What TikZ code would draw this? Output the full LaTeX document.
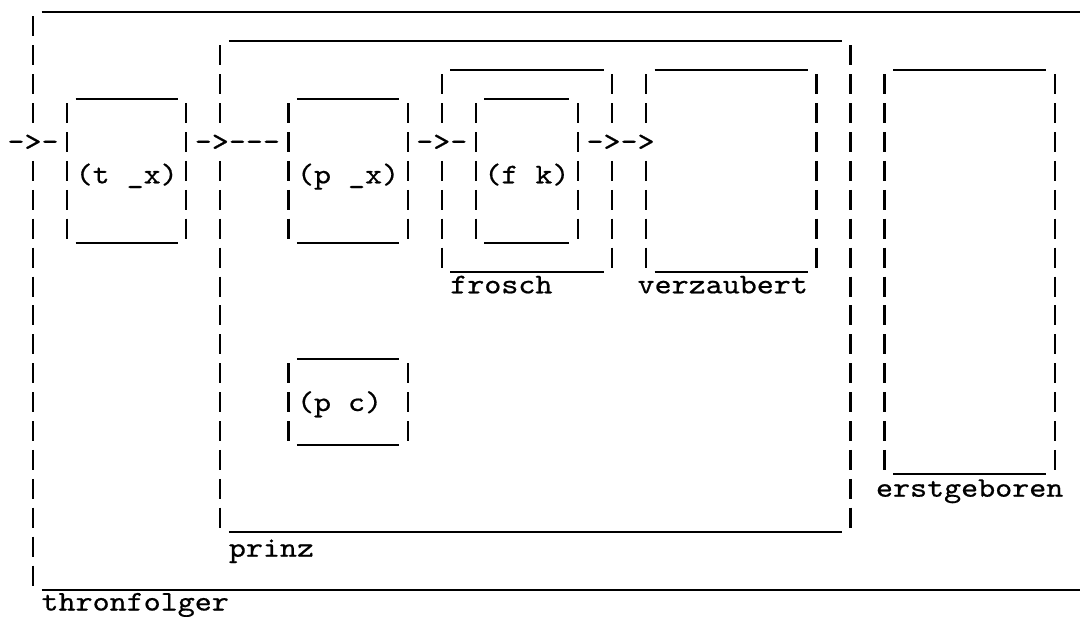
\documentclass[tikz,border=0pt]{standalone}
\usepackage{fontspec}
\newfontfamily\courfont{lmmono10-regular.otf}[FakeStretch=1.142,FakeBold=0.6]
\newcommand\colx[1]{(16+17.03*(#1))}
\newcommand\rowy[1]{(12+28.9*(#1))}
\tikzset{
  uline/.style={line width=2pt},
  vbar/.style={line width=2.2pt, dash pattern=on 20pt off 8.9pt},
  txt/.style={font=\courfont\fontsize{28.4pt}{30pt}\selectfont, inner sep=0pt, outer sep=0pt, anchor=base west}
}
% underscore run in a row, from first to last character column
\newcommand\uscore[3]{\draw[uline] ({\colx{#2}-8.515},{\rowy{#1}}) -- ({\colx{#3}+8.515},{\rowy{#1}});}
% dashed bar in a column, from first to last row
\newcommand\barcol[3]{\draw[vbar] ({\colx{#1}},{\rowy{#2-1}+4.45}) -- ({\colx{#1}},{\rowy{#3}-4.45});}
% text node: name, first column, baseline y, text
\newcommand\txtat[4]{\node[txt] (#1) at ({\colx{#2}-8.515},#3) {#4};}
\begin{document}
\begin{tikzpicture}[x=1pt,y=-1pt]
\fill[white] (0,0) rectangle (1080,617);
\useasboundingbox (0,0) rectangle (1080,617);

% thronfolger
\draw[uline] ({\colx{2}-8.515},{\rowy{0}}) -- (1080,{\rowy{0}});
\draw[uline] ({\colx{2}-8.515},{\rowy{20}}) -- (1080,{\rowy{20}});
\barcol{1}{1}{4}
\barcol{1}{6}{20}
\txtat{thronfolger}{2}{610.5}{thronfolger}

% (t _x)
\uscore{3}{4}{9}
\uscore{8}{4}{9}
\barcol{3}{4}{8}
\barcol{10}{4}{8}
\txtat{tx}{4}{183.3}{(t \_x)}

% prinz
\uscore{1}{13}{48}
\uscore{18}{13}{48}
\barcol{12}{2}{4}
\barcol{12}{6}{18}
\barcol{49}{2}{18}
\txtat{prinz}{13}{556.7}{prinz}

% (p _x)
\uscore{3}{17}{22}
\uscore{8}{17}{22}
\barcol{16}{4}{8}
\barcol{23}{4}{8}
\txtat{px}{17}{183.3}{(p \_x)}

% (p c)
\uscore{12}{17}{22}
\uscore{15}{17}{22}
\barcol{16}{13}{15}
\barcol{23}{13}{15}
\txtat{pc}{17}{411}{(p c)}

% frosch
\uscore{2}{26}{34}
\uscore{9}{26}{34}
\barcol{25}{3}{4}
\barcol{25}{6}{9}
\barcol{35}{3}{4}
\barcol{35}{6}{9}
\txtat{frosch}{26}{293.3}{frosch}

% (f k)
\uscore{3}{28}{32}
\uscore{8}{28}{32}
\barcol{27}{4}{8}
\barcol{33}{4}{8}
\txtat{fk}{28}{183.3}{(f k)}

% verzaubert
\uscore{2}{38}{46}
\uscore{9}{38}{46}
\barcol{37}{3}{4}
\barcol{37}{6}{9}
\barcol{47}{3}{9}
\txtat{verzaubert}{37}{293.3}{verzaubert}

% erstgeboren
\uscore{2}{52}{60}
\uscore{16}{52}{60}
\barcol{51}{3}{16}
\barcol{61}{3}{16}
\txtat{erstgeboren}{51}{496.7}{erstgeboren}

% arrows (row 5)
\txtat{arrowin}{0}{150.5}{->-}
\txtat{arrowtp}{11}{150.5}{->-\kern0pt-\kern0pt-}
\txtat{arrowpf}{24}{150.5}{->-}
\txtat{arrowfv}{34}{150.5}{->->}
\end{tikzpicture}
\end{document}
